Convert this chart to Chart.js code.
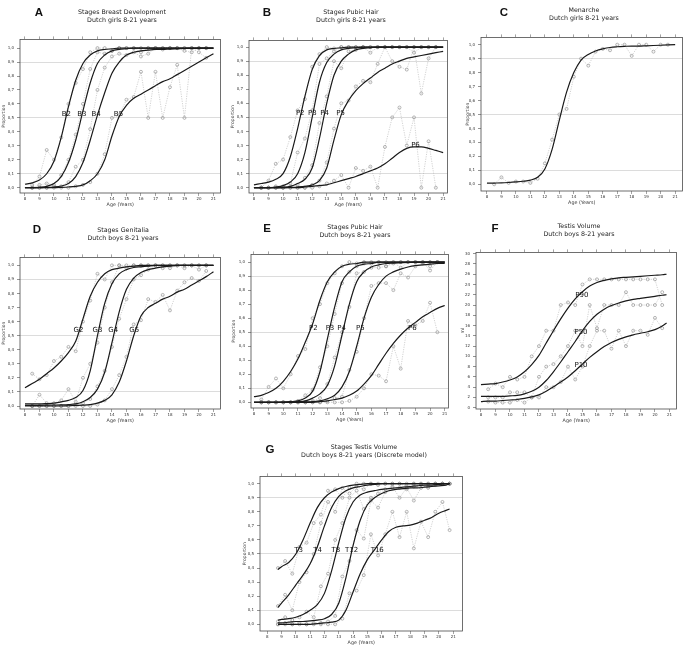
<!DOCTYPE html>
<html>
<head>
<meta charset="utf-8">
<script src="https://cdn.jsdelivr.net/npm/chart.js@4.4.1/dist/chart.umd.min.js"></script>
<style>
  html, body { margin: 0; padding: 0; background: #fff; }
  body { width: 685px; height: 648px; position: relative; overflow: hidden; }
  canvas { position: absolute; }
</style>
</head>
<body>
<canvas id="textLayer" width="685" height="648" style="left:0;top:0;width:685px;height:648px"></canvas>
<script>
// ====== Ejes ======
const X_TICKS = [8, 9, 10, 11, 12, 13, 14, 15, 16, 17, 18, 19, 20, 21];
const PROP_TICKS = [0, 0.1, 0.2, 0.3, 0.4, 0.5, 0.6, 0.7, 0.8, 0.9, 1.0];
const ML_TICKS = [0, 2, 4, 6, 8, 10, 12, 14, 16, 18, 20, 22, 24, 26, 28, 30];
const REF_LINES = [0.1, 0.5, 0.9];

const FIT_AGES = [8, 8.5, 9, 9.5, 10, 10.5, 11, 11.5, 12, 12.5, 13, 13.5, 14, 14.5, 15, 15.5, 16, 16.5, 17, 17.5, 18, 18.5, 19, 19.5, 20, 20.5, 21];
const OBS_AGES = [8.5, 9, 9.5, 10, 10.5, 11, 11.5, 12, 12.5, 13, 13.5, 14, 14.5, 15, 15.5, 16, 16.5, 17, 17.5, 18, 18.5, 19, 19.5, 20, 20.5];
const F_FIT_AGES = [8, 8.5, 9, 9.5, 10, 10.5, 11, 11.5, 12, 12.5, 13, 13.5, 14, 14.5, 15, 15.5, 16, 16.5, 17, 17.5, 18, 18.5, 19, 19.5, 20, 20.5, 20.8];
const G_FIT_AGES = [8.75, 9, 9.5, 10, 10.5, 11, 11.5, 12, 12.5, 13, 13.5, 14, 14.5, 15, 15.5, 16, 16.5, 17, 17.5, 18, 18.5, 19, 19.5, 20, 20.5, 20.75];
const G_OBS_AGES = [8.75, 9.25, 9.75, 10.25, 10.75, 11.25, 11.75, 12.25, 12.75, 13.25, 13.75, 14.25, 14.75, 15.25, 15.75, 16.25, 16.75, 17.25, 17.75, 18.25, 18.75, 19.25, 19.75, 20.25, 20.75];

// ====== A: Breast development (girls) ======
const A_B2 = [0.025, 0.035, 0.055, 0.10, 0.19, 0.36, 0.58, 0.77, 0.89, 0.95, 0.98, 0.99, 0.995, 1, 1, 1, 1, 1, 1, 1, 1, 1, 1, 1, 1, 1, 1];
const A_B3 = [0, 0, 0.003, 0.01, 0.03, 0.08, 0.18, 0.34, 0.55, 0.75, 0.89, 0.95, 0.98, 0.99, 0.995, 1, 1, 1, 1, 1, 1, 1, 1, 1, 1, 1, 1];
const A_B4 = [0, 0, 0, 0.002, 0.005, 0.012, 0.03, 0.08, 0.18, 0.34, 0.52, 0.68, 0.82, 0.90, 0.95, 0.97, 0.98, 0.985, 0.99, 0.99, 0.993, 0.995, 0.997, 0.998, 1, 1, 1];
const A_B5 = [0, 0, 0, 0, 0, 0.002, 0.005, 0.01, 0.02, 0.05, 0.10, 0.20, 0.37, 0.51, 0.59, 0.64, 0.67, 0.70, 0.73, 0.76, 0.78, 0.81, 0.84, 0.87, 0.90, 0.93, 0.96];
const A_B2_OBS = [0.02, 0.08, 0.27, 0.20, 0.36, 0.60, 0.75, 0.85, 0.97, 1, 1, 0.98, 1, 1, 1, 1, 1, 1, 1, 1, 1, 1, 1, 1, 1];
const A_B3_OBS = [0, 0.02, 0.03, 0.02, 0.09, 0.20, 0.38, 0.60, 0.85, 0.97, 0.96, 0.98, 1, 1, 1, 0.97, 1, 1, 1, 1, 1, 1, 1, 1, 1];
const A_B4_OBS = [0, 0, 0, 0.01, 0.01, 0.04, 0.15, 0.20, 0.42, 0.70, 0.86, 0.94, 0.96, 0.95, 0.97, 0.94, 0.96, 1, 0.99, 1, 1, 0.98, 0.97, 1, 1];
const A_B5_OBS = [0, 0, 0, 0, 0, 0, 0.01, 0.02, 0.04, 0.10, 0.24, 0.50, 0.52, 0.63, 0.65, 0.83, 0.50, 0.83, 0.50, 0.72, 0.88, 0.50, 1, 0.97, 0.93];
const A_NAMES = ['B2', 'B3', 'B4', 'B5'];
const A_NAME_AGES = [10.85, 11.92, 12.9, 14.45];
const A_NAME_Y = [0.53, 0.53, 0.53, 0.53];

// ====== B: Pubic hair (girls) ======
const B_P2 = [0.02, 0.03, 0.04, 0.06, 0.10, 0.22, 0.42, 0.65, 0.84, 0.94, 0.98, 0.99, 0.995, 1, 1, 1, 1, 1, 1, 1, 1, 1, 1, 1, 1, 1, 1];
const B_P3 = [0, 0, 0, 0.005, 0.015, 0.04, 0.10, 0.25, 0.50, 0.75, 0.89, 0.95, 0.98, 0.99, 0.995, 1, 1, 1, 1, 1, 1, 1, 1, 1, 1, 1, 1];
const B_P4 = [0, 0, 0, 0, 0.003, 0.01, 0.03, 0.06, 0.14, 0.35, 0.60, 0.80, 0.90, 0.95, 0.98, 0.99, 0.995, 1, 1, 1, 1, 1, 1, 1, 1, 1, 1];
const B_P5 = [0, 0, 0, 0, 0, 0.002, 0.005, 0.01, 0.02, 0.05, 0.14, 0.34, 0.52, 0.62, 0.69, 0.74, 0.78, 0.82, 0.85, 0.88, 0.90, 0.92, 0.93, 0.94, 0.95, 0.96, 0.97];
const B_P6 = [0, 0, 0, 0, 0, 0, 0, 0.005, 0.01, 0.015, 0.02, 0.035, 0.05, 0.065, 0.08, 0.10, 0.12, 0.14, 0.17, 0.21, 0.25, 0.28, 0.29, 0.29, 0.28, 0.265, 0.25];
const B_P2_OBS = [0, 0.05, 0.17, 0.20, 0.36, 0.55, 0.63, 0.86, 0.95, 1, 0.99, 1, 1, 1, 1, 1, 1, 1, 1, 1, 1, 1, 1, 1, 1];
const B_P3_OBS = [0, 0, 0.01, 0.01, 0.03, 0.25, 0.35, 0.55, 0.88, 0.92, 0.97, 1, 1, 1, 1, 1, 1, 1, 1, 1, 1, 1, 1, 1, 1];
const B_P4_OBS = [0, 0, 0, 0, 0.01, 0.02, 0.07, 0.16, 0.46, 0.65, 0.90, 0.85, 0.97, 0.98, 1, 0.96, 1, 1, 1, 1, 1, 0.96, 1, 1, 1];
const B_P5_OBS = [0, 0, 0, 0, 0, 0, 0, 0.02, 0.05, 0.18, 0.42, 0.60, 0.62, 0.72, 0.76, 0.75, 0.88, 1, 0.90, 0.86, 0.84, 1, 0.67, 0.92, 1];
const B_P6_OBS = [0, 0, 0, 0, 0, 0, 0, 0, 0.01, 0.03, 0.05, 0.09, 0, 0.14, 0.12, 0.15, 0, 0.29, 0.50, 0.57, 0.30, 0.50, 0, 0.33, 0];
const B_NAMES = ['P2', 'P3', 'P4', 'P5', 'P6'];
const B_NAME_AGES = [11.18, 12.02, 12.86, 13.95, 19.1];
const B_NAME_Y = [0.53, 0.53, 0.53, 0.53, 0.30];

// ====== C: Menarche ======
const C_MEN = [0.008, 0.009, 0.01, 0.013, 0.017, 0.022, 0.03, 0.05, 0.11, 0.25, 0.46, 0.66, 0.80, 0.89, 0.93, 0.955, 0.97, 0.98, 0.985, 0.988, 0.99, 0.99, 0.992, 0.994, 0.996, 0.998, 1];
const C_MEN_OBS = [0, 0.05, 0.01, 0.02, 0.02, 0.01, 0.04, 0.15, 0.32, 0.50, 0.54, 0.77, 0.90, 0.85, 0.95, 0.97, 0.96, 1, 1, 0.92, 1, 1, 0.95, 1, 1];

// ====== D: Genitalia (boys) ======
const D_G2 = [0.13, 0.16, 0.19, 0.23, 0.27, 0.32, 0.38, 0.46, 0.62, 0.78, 0.88, 0.94, 0.97, 0.98, 0.99, 0.995, 1, 1, 1, 1, 1, 1, 1, 1, 1, 1, 1];
const D_G3 = [0.015, 0.015, 0.015, 0.017, 0.02, 0.03, 0.04, 0.06, 0.11, 0.25, 0.50, 0.73, 0.87, 0.94, 0.97, 0.985, 0.99, 0.995, 1, 1, 1, 1, 1, 1, 1, 1, 1];
const D_G4 = [0.005, 0.005, 0.005, 0.006, 0.007, 0.008, 0.01, 0.015, 0.03, 0.06, 0.12, 0.24, 0.45, 0.67, 0.83, 0.91, 0.95, 0.97, 0.98, 0.99, 0.995, 1, 1, 1, 1, 1, 1];
const D_G5 = [0, 0, 0, 0, 0, 0, 0.002, 0.004, 0.006, 0.01, 0.02, 0.04, 0.08, 0.17, 0.32, 0.50, 0.64, 0.70, 0.73, 0.76, 0.78, 0.81, 0.83, 0.86, 0.89, 0.92, 0.955];
const D_G2_OBS = [0.23, 0.19, 0.22, 0.32, 0.35, 0.42, 0.39, 0.60, 0.75, 0.94, 0.90, 1, 1, 1, 1, 1, 1, 1, 1, 0.98, 1, 1, 1, 1, 1];
const D_G3_OBS = [0, 0.08, 0.02, 0.02, 0.04, 0.12, 0.03, 0.20, 0.30, 0.45, 0.70, 0.88, 1, 0.98, 1, 1, 1, 1, 1, 1, 1, 1, 1, 1, 1];
const D_G4_OBS = [0, 0, 0, 0, 0, 0, 0.01, 0.02, 0.05, 0.14, 0.25, 0.42, 0.62, 0.76, 0.90, 0.93, 0.97, 1, 0.98, 1, 1, 0.98, 1, 0.97, 1];
const D_G5_OBS = [0, 0, 0, 0, 0, 0, 0, 0, 0, 0.01, 0.04, 0.12, 0.22, 0.35, 0.58, 0.61, 0.76, 0.74, 0.79, 0.68, 0.82, 0.88, 0.91, 0.89, 0.96];
const D_NAMES = ['G2', 'G3', 'G4', 'G5'];
const D_NAME_AGES = [11.69, 13.0, 14.09, 15.53];
const D_NAME_Y = [0.54, 0.54, 0.54, 0.54];

// ====== E: Pubic hair (boys) ======
const E_P2 = [0.04, 0.05, 0.07, 0.10, 0.15, 0.22, 0.31, 0.43, 0.56, 0.73, 0.86, 0.93, 0.97, 0.985, 0.99, 1, 1, 1, 1, 1, 1, 1, 1, 1, 1, 1, 1];
const E_P3 = [0, 0, 0, 0, 0.002, 0.005, 0.01, 0.03, 0.08, 0.22, 0.45, 0.68, 0.86, 0.93, 0.97, 0.985, 0.99, 1, 1, 1, 1, 1, 1, 1, 1, 1, 1];
const E_P4 = [0, 0, 0, 0, 0, 0.002, 0.004, 0.01, 0.03, 0.06, 0.12, 0.26, 0.48, 0.70, 0.86, 0.93, 0.965, 0.98, 0.99, 0.993, 0.995, 0.997, 1, 1, 1, 1, 1];
const E_P5 = [0, 0, 0, 0, 0, 0, 0.002, 0.003, 0.005, 0.01, 0.025, 0.05, 0.11, 0.22, 0.40, 0.60, 0.75, 0.84, 0.90, 0.93, 0.95, 0.965, 0.975, 0.98, 0.985, 0.99, 0.99];
const E_P6 = [0, 0, 0, 0, 0, 0, 0, 0, 0, 0.005, 0.01, 0.02, 0.03, 0.05, 0.08, 0.13, 0.19, 0.27, 0.35, 0.42, 0.48, 0.53, 0.57, 0.61, 0.64, 0.67, 0.69];
const E_P2_OBS = [0.02, 0.11, 0.17, 0.10, 0.20, 0.33, 0.38, 0.60, 0.70, 0.85, 0.92, 0.97, 1, 0.99, 0.99, 1, 1, 0.97, 1, 0.96, 1, 1, 1, 0.94, 1];
const E_P3_OBS = [0, 0, 0, 0, 0, 0.01, 0.05, 0.09, 0.25, 0.40, 0.63, 0.85, 0.93, 0.97, 1, 0.99, 1, 1, 1, 1, 1, 1, 1, 1, 1];
const E_P4_OBS = [0, 0, 0, 0, 0, 0, 0, 0.01, 0.03, 0.13, 0.32, 0.50, 0.68, 0.92, 0.93, 0.96, 0.96, 0.97, 0.99, 1, 1, 1, 1, 1, 1];
const E_P5_OBS = [0, 0, 0, 0, 0, 0, 0, 0, 0, 0.01, 0.03, 0.04, 0.23, 0.36, 0.60, 0.83, 0.85, 0.85, 0.80, 0.92, 0.89, 0.97, 0.99, 0.97, 1];
const E_P6_OBS = [0, 0, 0, 0, 0, 0, 0, 0, 0, 0, 0, 0, 0.01, 0.04, 0.10, 0.20, 0.19, 0.15, 0.40, 0.24, 0.58, 0.55, 0.58, 0.71, 0.50];
const E_NAMES = ['P2', 'P3', 'P4', 'P5', 'P6'];
const E_NAME_AGES = [12.05, 13.18, 13.97, 15.25, 18.79];
const E_NAME_Y = [0.53, 0.53, 0.53, 0.53, 0.53];

// ====== F: Testis volume (ml) ======
const F_P90 = [4.5, 4.6, 4.7, 5.0, 5.4, 6.0, 7.0, 8.4, 10.2, 12.6, 15.0, 17.3, 19.4, 21.2, 22.6, 23.7, 24.4, 24.8, 25.1, 25.3, 25.4, 25.5, 25.6, 25.7, 25.8, 25.9, 26.0];
const F_P50 = [2.2, 2.2, 2.2, 2.2, 2.3, 2.4, 2.7, 3.2, 4.0, 5.3, 7.0, 8.9, 10.9, 12.9, 15.0, 16.8, 18.2, 19.2, 19.9, 20.4, 20.8, 21.1, 21.3, 21.5, 21.7, 21.9, 22.0];
const F_P10 = [1.2, 1.3, 1.3, 1.4, 1.5, 1.6, 1.8, 2.1, 2.5, 3.2, 4.1, 5.0, 6.0, 7.2, 8.5, 9.8, 10.9, 11.9, 12.7, 13.3, 13.8, 14.2, 14.5, 14.8, 15.2, 15.9, 16.5];
const F_P90_OBS = [3.6, 4.7, 4.0, 6.0, 5.5, 6.0, 10.0, 12.0, 15.0, 15.0, 20.0, 20.5, 20.0, 24.0, 25, 25, 25, 25, 25, 25, 25, 25, 25, 25, 20.0];
const F_P50_OBS = [2.0, 2.0, 2.0, 3.0, 3.0, 3.0, 2.0, 6.0, 8.0, 8.5, 10.0, 12.0, 15.0, 12.0, 20.0, 15.5, 20.0, 20.0, 20.0, 22.5, 20.0, 20.0, 20.0, 20.0, 22.5];
const F_P10_OBS = [1.2, 1.0, 1.0, 1.0, 1.5, 1.0, 2.0, 2.0, 4.0, 4.0, 5.0, 8.0, 5.5, 8.0, 12.0, 15.0, 15.0, 11.5, 15.0, 12.0, 15.0, 15.0, 14.2, 17.5, 15.5];
const F_NAMES = ['P90', 'P50', 'P10'];
const F_NAME_AGES = [14.96, 14.9, 14.9];
const F_NAME_Y = [21.9, 14.65, 8.2];

// ====== G: Testis volume stages (discrete model) ======
const G_T3 = [0.39, 0.41, 0.44, 0.50, 0.60, 0.72, 0.83, 0.90, 0.94, 0.965, 0.98, 0.99, 0.995, 1, 1, 1, 1, 1, 1, 1, 1, 1, 1, 1, 1, 1];
const G_T4 = [0.12, 0.15, 0.21, 0.28, 0.35, 0.43, 0.55, 0.70, 0.83, 0.91, 0.95, 0.97, 0.98, 0.99, 0.995, 1, 1, 1, 1, 1, 1, 1, 1, 1, 1, 1];
const G_T8 = [0.03, 0.035, 0.04, 0.05, 0.07, 0.10, 0.14, 0.22, 0.38, 0.58, 0.76, 0.87, 0.92, 0.94, 0.95, 0.96, 0.965, 0.97, 0.975, 0.98, 0.985, 0.99, 0.99, 0.995, 1, 1];
const G_T12 = [0.01, 0.01, 0.015, 0.02, 0.02, 0.025, 0.03, 0.04, 0.07, 0.15, 0.33, 0.56, 0.74, 0.85, 0.90, 0.93, 0.95, 0.96, 0.965, 0.97, 0.97, 0.975, 0.98, 0.985, 0.99, 1];
const G_T16 = [0, 0, 0, 0, 0, 0, 0.005, 0.01, 0.015, 0.03, 0.10, 0.23, 0.36, 0.46, 0.53, 0.60, 0.66, 0.69, 0.70, 0.705, 0.72, 0.74, 0.76, 0.79, 0.81, 0.82];
const G_T3_OBS = [0.40, 0.45, 0.36, 0.55, 0.58, 0.72, 0.78, 0.95, 0.96, 0.90, 0.97, 1, 1, 1, 1, 1, 1, 1, 1, 1, 1, 1, 1, 1, 1];
const G_T4_OBS = [0.13, 0.21, 0.10, 0.30, 0.37, 0.50, 0.72, 0.87, 0.80, 0.97, 0.93, 0.98, 0.96, 1, 0.99, 1, 1, 1, 0.98, 1, 1, 1, 1, 1, 1];
const G_T8_OBS = [0.02, 0.05, 0.03, 0.05, 0.09, 0.05, 0.27, 0.36, 0.60, 0.72, 0.90, 0.95, 0.82, 0.90, 0.93, 0.96, 0.98, 0.90, 0.97, 0.88, 0.97, 0.98, 0.99, 1, 1];
const G_T12_OBS = [0, 0.01, 0, 0.01, 0, 0.01, 0.01, 0.02, 0.06, 0.34, 0.45, 0.67, 0.61, 0.88, 0.83, 0.94, 0.97, 0.97, 0.96, 0.98, 0.99, 0.97, 1, 1, 1];
const G_T16_OBS = [0, 0, 0, 0, 0, 0, 0, 0, 0, 0.04, 0.22, 0.24, 0.35, 0.64, 0.49, 0.64, 0.80, 0.62, 0.80, 0.54, 0.73, 0.62, 0.80, 0.87, 0.67];
const G_NAMES = ['T3', 'T4', 'T8', 'T12', 'T16'];
const G_NAME_AGES = [10.2, 11.52, 12.79, 13.9, 15.69];
const G_NAME_Y = [0.53, 0.53, 0.53, 0.53, 0.53];

// ====== Plugins ======
const FONT = "'DejaVu Sans', sans-serif";

const framePlugin = {
  id: 'frame',
  beforeDatasetsDraw(chart) {
    const { ctx, chartArea: a } = chart;
    ctx.save();
    ctx.strokeStyle = '#4a4a4a';
    ctx.lineWidth = 0.8;
    ctx.strokeRect(a.left, a.top, a.right - a.left, a.bottom - a.top);
    ctx.restore();
  }
};

const curveLabelPlugin = {
  id: 'curveLabels',
  afterDatasetsDraw(chart, args, opts) {
    if (!opts.names) return;
    const { ctx, scales } = chart;
    ctx.save();
    ctx.font = '7px ' + FONT;
    ctx.fillStyle = '#111';
    ctx.textAlign = 'center';
    ctx.textBaseline = 'middle';
    opts.names.forEach((n, i) => {
      ctx.fillText(n, scales.x.getPixelForValue(opts.ages[i]), scales.y.getPixelForValue(opts.ys[i]));
    });
    ctx.restore();
  }
};

function curveSet(ages, vals) {
  return {
    data: ages.map((a, i) => ({ x: a, y: vals[i] })),
    borderColor: '#1a1a1a',
    borderWidth: 1.2,
    pointRadius: 0,
    tension: 0.4,
    cubicInterpolationMode: 'monotone',
    fill: false,
    order: 0
  };
}

function obsSet(ages, vals) {
  return {
    data: ages.map((a, i) => ({ x: a, y: vals[i] })),
    borderColor: '#b4b4b4',
    borderWidth: 0.6,
    borderDash: [1.2, 1.2],
    tension: 0,
    pointRadius: 1.5,
    pointBorderWidth: 0.6,
    pointBorderColor: '#888',
    pointBackgroundColor: 'rgba(255,255,255,0)',
    fill: false,
    order: 1
  };
}

// títulos y letras de panel (texto dibujado en una capa de canvas)
const tctx = document.getElementById('textLayer').getContext('2d');
function drawLetter(x, y, s) {
  tctx.font = "bold 11.5px 'Liberation Sans', Arial, sans-serif";
  tctx.fillStyle = '#111';
  tctx.textAlign = 'center';
  tctx.textBaseline = 'middle';
  tctx.fillText(s, x, y);
}
function drawTitle(x, y, lines) {
  tctx.font = '6.3px ' + FONT;
  tctx.fillStyle = '#222';
  tctx.textAlign = 'center';
  tctx.textBaseline = 'middle';
  lines.forEach((ln, i) => tctx.fillText(ln, x, y + i * 8));
}

// ====== Panels ======
const PANELS = [
  { letter: 'A', lx: 39, ly: 13, title: ['Stages Breast Development', 'Dutch girls 8-21 years'], tx: 122, ty: 12.7,
    frame: [20, 39, 222, 193], x8: 25, x21: 215, yTop: 1, yTopPx: 47.7, yBotPx: 187.7, yW: 19,
    yTitle: 'Proportion', yTicks: PROP_TICKS, refs: REF_LINES,
    fitAges: FIT_AGES, fits: [A_B2, A_B3, A_B4, A_B5],
    obsAges: OBS_AGES, obs: [A_B2_OBS, A_B3_OBS, A_B4_OBS, A_B5_OBS],
    names: A_NAMES, nameAges: A_NAME_AGES, nameY: A_NAME_Y },
  { letter: 'B', lx: 267, ly: 13, title: ['Stages Pubic Hair', 'Dutch girls 8-21 years'], tx: 351, ty: 12.7,
    frame: [249, 40, 449, 193], x8: 254, x21: 444.7, yTop: 1, yTopPx: 46.7, yBotPx: 187.7, yW: 19,
    yTitle: 'Proportion', yTicks: PROP_TICKS, refs: REF_LINES,
    fitAges: FIT_AGES, fits: [B_P2, B_P3, B_P4, B_P5, B_P6],
    obsAges: OBS_AGES, obs: [B_P2_OBS, B_P3_OBS, B_P4_OBS, B_P5_OBS, B_P6_OBS],
    names: B_NAMES, nameAges: B_NAME_AGES, nameY: B_NAME_Y },
  { letter: 'C', lx: 504, ly: 13, title: ['Menarche', 'Dutch girls 8-21 years'], tx: 584, ty: 10.5,
    frame: [481, 37, 684, 191], x8: 487, x21: 676.7, yTop: 1, yTopPx: 44.3, yBotPx: 184.3, yW: 16,
    yTitle: 'Proportion', yTicks: PROP_TICKS, refs: REF_LINES,
    fitAges: FIT_AGES, fits: [C_MEN],
    obsAges: OBS_AGES, obs: [C_MEN_OBS],
    names: null },
  { letter: 'D', lx: 37, ly: 230, title: ['Stages Genitalia', 'Dutch boys 8-21 years'], tx: 123, ty: 230,
    frame: [20, 257, 222, 409], x8: 25, x21: 215, yTop: 1, yTopPx: 265, yBotPx: 406, yW: 19,
    yTitle: 'Proportion', yTicks: PROP_TICKS, refs: REF_LINES,
    fitAges: FIT_AGES, fits: [D_G2, D_G3, D_G4, D_G5],
    obsAges: OBS_AGES, obs: [D_G2_OBS, D_G3_OBS, D_G4_OBS, D_G5_OBS],
    names: D_NAMES, nameAges: D_NAME_AGES, nameY: D_NAME_Y },
  { letter: 'E', lx: 267, ly: 229, title: ['Stages Pubic Hair', 'Dutch boys 8-21 years'], tx: 355, ty: 227.3,
    frame: [251, 254, 450, 408], x8: 254, x21: 446.3, yTop: 1, yTopPx: 261.7, yBotPx: 402.3, yW: 20,
    yTitle: 'Proportion', yTicks: PROP_TICKS, refs: REF_LINES,
    fitAges: FIT_AGES, fits: [E_P2, E_P3, E_P4, E_P5, E_P6],
    obsAges: OBS_AGES, obs: [E_P2_OBS, E_P3_OBS, E_P4_OBS, E_P5_OBS, E_P6_OBS],
    names: E_NAMES, nameAges: E_NAME_AGES, nameY: E_NAME_Y },
  { letter: 'F', lx: 495, ly: 229, title: ['Testis Volume', 'Dutch boys 8-21 years'], tx: 579, ty: 226.7,
    frame: [476, 252, 678, 409], x8: 481, x21: 671, yTop: 30, yTopPx: 253.3, yBotPx: 407.7, yW: 16,
    yTitle: 'ml', yTicks: ML_TICKS, refs: [],
    fitAges: F_FIT_AGES, fits: [F_P90, F_P50, F_P10],
    obsAges: OBS_AGES, obs: [F_P90_OBS, F_P50_OBS, F_P10_OBS],
    names: F_NAMES, nameAges: F_NAME_AGES, nameY: F_NAME_Y },
  { letter: 'G', lx: 270, ly: 450, title: ['Stages Testis Volume', 'Dutch boys 8-21 years (Discrete model)'], tx: 364, ty: 447.3,
    frame: [260, 476, 464, 631], x8: 267.3, x21: 454.7, yTop: 1, yTopPx: 483.3, yBotPx: 624.3, yW: 18,
    yTitle: 'Proportion', yTicks: PROP_TICKS, refs: REF_LINES,
    fitAges: G_FIT_AGES, fits: [G_T3, G_T4, G_T8, G_T12, G_T16],
    obsAges: G_OBS_AGES, obs: [G_T3_OBS, G_T4_OBS, G_T8_OBS, G_T12_OBS, G_T16_OBS],
    names: G_NAMES, nameAges: G_NAME_AGES, nameY: G_NAME_Y }
];

const PAD_T = 5, PAD_R = 3, X_H = 15;

PANELS.forEach(p => {
  const [l, t, r, b] = p.frame;
  const pxYr = (p.x21 - p.x8) / 13;
  const xMin = 8 - (p.x8 - l) / pxYr;
  const xMax = 21 + (r - p.x21) / pxYr;
  const ppu = (p.yBotPx - p.yTopPx) / p.yTop;
  const yMax = p.yTop + (p.yTopPx - t) / ppu;
  const yMin = -(b - p.yBotPx) / ppu;

  const canvas = document.createElement('canvas');
  const w = r - l + p.yW + PAD_R;
  const h = b - t + PAD_T + X_H;
  canvas.width = w;
  canvas.height = h;
  canvas.style.left = (l - p.yW) + 'px';
  canvas.style.top = (t - PAD_T) + 'px';
  canvas.style.width = w + 'px';
  canvas.style.height = h + 'px';
  document.body.appendChild(canvas);

  drawLetter(p.lx, p.ly, p.letter);
  drawTitle(p.tx, p.ty, p.title);

  const datasets = [];
  p.obs.forEach(v => datasets.push(obsSet(p.obsAges, v)));
  p.fits.forEach(v => datasets.push(curveSet(p.fitAges, v)));

  const isProp = p.yTop === 1;

  new Chart(canvas, {
    type: 'line',
    data: { datasets },
    options: {
      responsive: false,
      animation: false,
      devicePixelRatio: 1,
      layout: { padding: { top: PAD_T, right: PAD_R, left: 0, bottom: 0 } },
      plugins: {
        legend: { display: false },
        tooltip: { enabled: false },
        curveLabels: { names: p.names, ages: p.nameAges, ys: p.nameY }
      },
      scales: {
        x: {
          type: 'linear', position: 'bottom', min: xMin, max: xMax,
          afterBuildTicks: s => { s.ticks = X_TICKS.map(v => ({ value: v })); },
          afterFit: s => { s.height = X_H; },
          ticks: { autoSkip: false, maxRotation: 0, padding: 1, color: '#333', font: { family: FONT, size: 4 } },
          grid: { drawOnChartArea: false, tickLength: 3, tickColor: '#666', lineWidth: 0.6 },
          border: { display: false },
          title: { display: true, text: 'Age (Years)', padding: 0, color: '#333', font: { family: FONT, size: 4.8 } }
        },
        xTop: {
          type: 'linear', position: 'top', min: xMin, max: xMax,
          afterBuildTicks: s => { s.ticks = X_TICKS.map(v => ({ value: v })); },
          afterFit: s => { s.height = 0; },
          ticks: { display: false },
          grid: { drawOnChartArea: false, tickLength: 3, tickColor: '#666', lineWidth: 0.6 },
          border: { display: false }
        },
        y: {
          type: 'linear', position: 'left', min: yMin, max: yMax,
          afterBuildTicks: s => { s.ticks = p.yTicks.map(v => ({ value: v })); },
          afterFit: s => { s.width = p.yW; },
          ticks: {
            padding: 3, color: '#333', font: { family: FONT, size: 4 },
            callback: v => isProp ? v.toFixed(1).replace('.', ',') : String(v)
          },
          grid: {
            drawOnChartArea: true, tickLength: 3, tickColor: '#666', lineWidth: 0.7,
            color: c => p.refs.some(rv => Math.abs(rv - c.tick.value) < 1e-6) ? '#cdcdcd' : 'rgba(0,0,0,0)'
          },
          border: { display: false },
          title: { display: true, text: p.yTitle, padding: 0, color: '#333', font: { family: FONT, size: 4.5 } }
        }
      }
    },
    plugins: [framePlugin, curveLabelPlugin]
  });
});
</script>
</body>
</html>
